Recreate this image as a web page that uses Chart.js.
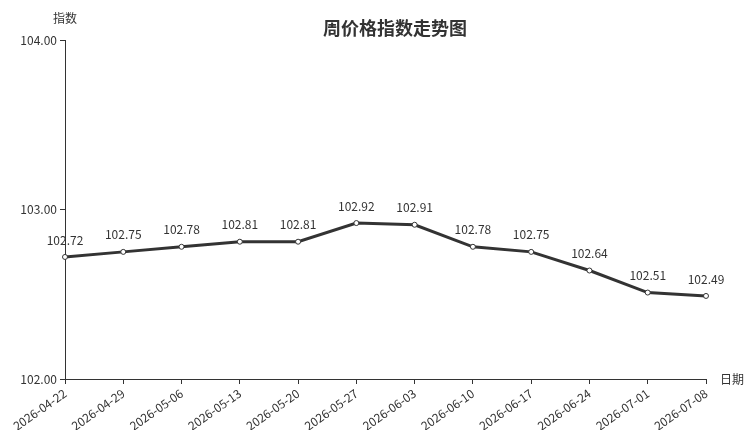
<!DOCTYPE html>
<html>
<head>
<meta charset="utf-8">
<script src="https://cdn.jsdelivr.net/npm/chart.js@4/dist/chart.umd.min.js"></script>
<style>
  html, body { margin: 0; padding: 0; background: #fff; }
  #box { width: 750px; height: 430px; }
</style>
</head>
<body>
<div id="box"><canvas id="chart"></canvas></div>
<script>
const dates = [
  "2026-04-22", "2026-04-29", "2026-05-06", "2026-05-13", "2026-05-20", "2026-05-27",
  "2026-06-03", "2026-06-10", "2026-06-17", "2026-06-24", "2026-07-01", "2026-07-08",
];
const indexValues = [102.72, 102.75, 102.78, 102.81, 102.81, 102.92, 102.91, 102.78, 102.75, 102.64, 102.51, 102.49];
const yTicks = [102, 103, 104];

const FONT = "'Noto Sans CJK SC', 'Noto Sans', sans-serif";
const INK = "#333333";

// title, axis names and value labels
const extras = {
  id: "extras",
  afterDatasetsDraw(chart) {
    const ctx = chart.ctx;
    const area = chart.chartArea;
    ctx.save();
    ctx.fillStyle = INK;
    ctx.textAlign = "center";
    ctx.textBaseline = "middle";
    ctx.font = "bold 18px " + FONT;
    ctx.fillText("周价格指数走势图", 395, 28);

    ctx.font = "12px " + FONT;
    ctx.fillText("指数", area.left, 18);
    ctx.textAlign = "left";
    ctx.fillText("日期", area.right + 14, area.bottom);

    ctx.textAlign = "center";
    const meta = chart.getDatasetMeta(0);
    meta.data.forEach((pt, i) => {
      ctx.fillText(indexValues[i].toFixed(2), pt.x, pt.y - 17);
    });
    ctx.restore();
  },
};

new Chart(document.getElementById("chart"), {
  type: "line",
  plugins: [extras],
  data: {
    labels: dates,
    datasets: [
      {
        data: indexValues,
        borderColor: INK,
        borderWidth: 3,
        pointRadius: 2.5,
        pointBorderWidth: 1,
        pointBackgroundColor: "#ffffff",
        pointBorderColor: INK,
        tension: 0,
      },
    ],
  },
  options: {
    responsive: true,
    maintainAspectRatio: false,
    animation: false,
    layout: { padding: { top: 40, right: 44, left: 0, bottom: 0 } },
    plugins: {
      legend: { display: false },
      tooltip: { enabled: false },
      title: { display: false },
    },
    scales: {
      x: {
        offset: false,
        afterFit: (s) => { s.height = 51; },
        border: { color: INK, width: 1 },
        grid: { display: true, drawOnChartArea: false, drawTicks: true, tickLength: 5, color: INK },
        ticks: {
          color: INK,
          font: { family: FONT, size: 12 },
          minRotation: 35,
          maxRotation: 35,
          autoSkip: false,
          padding: 2,
        },
      },
      y: {
        min: 102,
        max: 104,
        afterFit: (s) => { s.width = 65; },
        afterBuildTicks: (s) => { s.ticks = yTicks.map((v) => ({ value: v })); },
        border: { color: INK, width: 1 },
        grid: { display: true, drawOnChartArea: false, drawTicks: true, tickLength: 5, color: INK },
        ticks: {
          color: INK,
          font: { family: FONT, size: 12 },
          padding: 3,
          callback: (v) => Number(v).toFixed(2),
        },
      },
    },
  },
});
</script>
</body>
</html>
